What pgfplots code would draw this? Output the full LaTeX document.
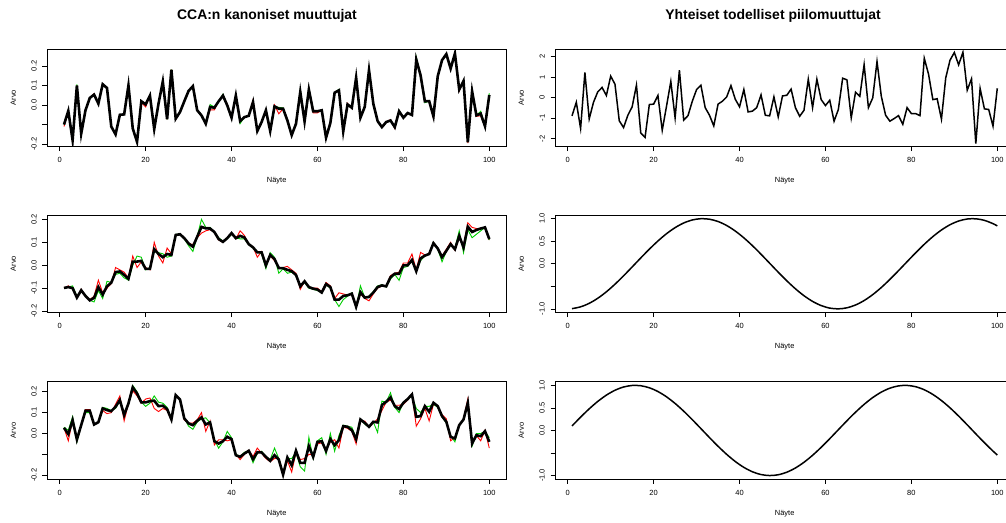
\documentclass[border=0pt]{standalone}
\usepackage{fontspec}
\setmainfont{Liberation Sans}
\usepackage{pgfplots}
\usepackage{pgfplotstable}
\pgfplotsset{compat=1.18}

\definecolor{rred}{RGB}{255,0,0}
\definecolor{rgreen}{RGB}{0,205,0}

% CCA canonical variables, panel 1 (x, red, green, black)
\pgfplotstableread{
x r g b
1 -0.11 -0.10 -0.10
2 -0.03 -0.03 -0.03
3 -0.19 -0.18 -0.18
4 0.10 0.105 0.10
5 -0.147 -0.147 -0.147
6 -0.027 -0.027 -0.027
7 0.036 0.036 0.036
8 0.058 0.053 0.053
9 0.007 0.007 0.007
10 0.106 0.106 0.106
11 0.087 0.087 0.087
12 -0.11 -0.11 -0.11
13 -0.15 -0.15 -0.15
14 -0.05 -0.05 -0.05
15 -0.048 -0.048 -0.048
16 0.10 0.10 0.10
17 -0.12 -0.12 -0.12
18 -0.192 -0.188 -0.188
19 0.012 0.019 0.019
20 -0.01 0.003 0.003
21 0.048 0.048 0.048
22 -0.123 -0.123 -0.123
23 0.007 0.007 0.007
24 0.12 0.12 0.12
25 -0.073 -0.073 -0.073
26 0.18 0.18 0.18
27 -0.075 -0.07 -0.07
28 -0.036 -0.036 -0.036
29 0.019 0.019 0.019
30 0.072 0.072 0.072
31 0.096 0.096 0.096
32 -0.027 -0.027 -0.027
33 -0.053 -0.053 -0.053
34 -0.096 -0.096 -0.096
35 -0.025 0.002 -0.01
36 -0.025 -0.01 -0.014
37 0.019 0.019 0.019
38 0.048 0.055 0.048
39 0.005 -0.002 -0.002
40 -0.065 -0.07 -0.065
41 0.048 0.048 0.048
42 -0.082 -0.095 -0.082
43 -0.062 -0.062 -0.062
44 -0.055 -0.055 -0.055
45 0.025 0.015 0.015
46 -0.133 -0.133 -0.133
47 -0.087 -0.087 -0.087
48 -0.027 -0.027 -0.027
49 -0.133 -0.133 -0.133
50 0.0 -0.007 -0.007
51 -0.045 -0.012 -0.019
52 -0.019 -0.015 -0.019
53 -0.079 -0.079 -0.079
54 -0.154 -0.154 -0.154
55 -0.096 -0.096 -0.096
56 0.067 0.078 0.067
57 -0.084 -0.084 -0.084
58 0.079 0.083 0.079
59 -0.04 -0.032 -0.032
60 -0.04 -0.032 -0.032
61 -0.027 -0.027 -0.027
62 -0.172 -0.167 -0.167
63 -0.092 -0.092 -0.092
64 0.063 0.063 0.063
65 0.075 0.08 0.075
66 -0.14 -0.135 -0.135
67 0.008 0.005 0.003
68 -0.018 -0.014 -0.014
69 0.14 0.14 0.14
70 -0.065 -0.065 -0.065
71 -0.01 -0.01 -0.01
72 0.178 0.185 0.178
73 0.007 0.007 0.007
74 -0.082 -0.082 -0.082
75 -0.113 -0.113 -0.113
76 -0.087 -0.087 -0.087
77 -0.075 -0.079 -0.079
78 -0.12 -0.113 -0.113
79 -0.032 -0.028 -0.032
80 -0.065 -0.065 -0.065
81 -0.041 -0.041 -0.041
82 -0.051 -0.051 -0.051
83 0.232 0.245 0.232
84 0.152 0.152 0.152
85 0.019 0.012 0.019
86 0.02 0.02 0.02
87 -0.068 -0.058 -0.058
88 0.147 0.147 0.147
89 0.229 0.229 0.229
90 0.26 0.26 0.26
91 0.186 0.186 0.186
92 0.265 0.263 0.263
93 0.072 0.079 0.079
94 0.123 0.123 0.123
95 -0.195 -0.19 -0.19
96 0.07 0.07 0.07
97 -0.058 -0.053 -0.053
98 -0.055 -0.032 -0.044
99 -0.109 -0.109 -0.109
100 0.051 0.06 0.051
}\cancA

% panel 2
\pgfplotstableread{
x r g b
1 -0.099 -0.10 -0.099
2 -0.09 -0.095 -0.095
3 -0.10 -0.09 -0.10
4 -0.141 -0.135 -0.141
5 -0.105 -0.115 -0.109
6 -0.134 -0.13 -0.134
7 -0.15 -0.153 -0.153
8 -0.135 -0.16 -0.142
9 -0.065 -0.11 -0.095
10 -0.12 -0.145 -0.128
11 -0.10 -0.07 -0.092
12 -0.08 -0.075 -0.076
13 -0.01 -0.04 -0.03
14 -0.02 -0.035 -0.027
15 -0.03 -0.055 -0.042
16 -0.055 -0.065 -0.059
17 0.04 0.0 0.016
18 -0.01 0.04 0.016
19 0.015 0.035 0.019
20 -0.01 -0.02 -0.016
21 -0.02 -0.01 -0.016
22 0.10 0.06 0.07
23 0.04 0.055 0.049
24 0.01 0.05 0.035
25 0.075 0.035 0.049
26 0.05 0.04 0.045
27 0.13 0.135 0.132
28 0.138 0.135 0.135
29 0.12 0.115 0.118
30 0.095 0.085 0.095
31 0.09 0.06 0.081
32 0.12 0.125 0.124
33 0.14 0.20 0.167
34 0.15 0.165 0.161
35 0.155 0.165 0.16
36 0.145 0.145 0.145
37 0.11 0.12 0.114
38 0.10 0.105 0.102
39 0.12 0.115 0.118
40 0.14 0.135 0.14
41 0.115 0.12 0.118
42 0.15 0.115 0.128
43 0.13 0.115 0.121
44 0.092 0.09 0.092
45 0.08 0.075 0.078
46 0.035 0.06 0.056
47 0.06 0.05 0.056
48 0.005 -0.015 0.0
49 0.04 0.055 0.045
50 0.02 0.035 0.027
51 -0.01 -0.035 -0.012
52 -0.01 -0.015 -0.013
53 -0.005 -0.035 -0.02
54 -0.02 -0.03 -0.026
55 -0.035 -0.045 -0.042
56 -0.105 -0.09 -0.092
57 -0.07 -0.075 -0.07
58 -0.095 -0.10 -0.095
59 -0.10 -0.105 -0.102
60 -0.10 -0.11 -0.106
61 -0.115 -0.12 -0.119
62 -0.075 -0.085 -0.082
63 -0.09 -0.10 -0.095
64 -0.145 -0.15 -0.15
65 -0.12 -0.18 -0.15
66 -0.125 -0.15 -0.134
67 -0.13 -0.135 -0.131
68 -0.125 -0.12 -0.124
69 -0.18 -0.185 -0.181
70 -0.125 -0.09 -0.117
71 -0.145 -0.14 -0.141
72 -0.155 -0.135 -0.138
73 -0.125 -0.115 -0.119
74 -0.10 -0.09 -0.095
75 -0.09 -0.085 -0.088
76 -0.09 -0.095 -0.092
77 -0.045 -0.06 -0.052
78 -0.035 -0.04 -0.037
79 -0.03 -0.066 -0.037
80 0.01 -0.01 -0.001
81 0.01 -0.005 0.0
82 0.049 0.02 0.023
83 -0.02 -0.025 -0.026
84 0.056 0.02 0.03
85 0.045 0.04 0.042
86 0.05 0.05 0.049
87 0.10 0.10 0.096
88 0.075 0.07 0.073
89 0.04 0.015 0.035
90 0.07 0.06 0.063
91 0.10 0.09 0.092
92 0.065 0.075 0.07
93 0.12 0.15 0.128
94 0.085 0.055 0.078
95 0.185 0.155 0.168
96 0.165 0.12 0.145
97 0.16 0.135 0.154
98 0.16 0.15 0.16
99 0.165 0.165 0.165
100 0.11 0.11 0.114
}\cancB

% panel 3
\pgfplotstableread{
x r g b
1 0.027 0.03 0.027
2 -0.035 0.015 -0.003
3 0.064 0.08 0.064
4 -0.029 -0.04 -0.029
5 0.04 0.04 0.04
6 0.115 0.10 0.109
7 0.115 0.10 0.109
8 0.043 0.043 0.043
9 0.054 0.054 0.054
10 0.11 0.125 0.12
11 0.095 0.12 0.112
12 0.10 0.11 0.107
13 0.14 0.12 0.128
14 0.18 0.155 0.16
15 0.06 0.09 0.088
16 0.144 0.144 0.144
17 0.205 0.23 0.221
18 0.18 0.20 0.192
19 0.145 0.15 0.149
20 0.165 0.13 0.149
21 0.17 0.145 0.155
22 0.12 0.18 0.157
23 0.105 0.15 0.131
24 0.12 0.145 0.133
25 0.11 0.125 0.117
26 0.065 0.07 0.067
27 0.18 0.185 0.184
28 0.163 0.163 0.163
29 0.065 0.075 0.072
30 0.05 0.035 0.048
31 0.05 0.02 0.04
32 0.065 0.055 0.061
33 0.10 0.07 0.077
34 0.01 0.075 0.043
35 0.06 0.05 0.053
36 -0.055 -0.03 -0.037
37 -0.03 -0.07 -0.048
38 -0.03 -0.04 -0.037
39 -0.035 0.01 -0.016
40 -0.03 -0.02 -0.027
41 -0.10 -0.10 -0.104
42 -0.125 -0.11 -0.112
43 -0.10 -0.09 -0.096
44 -0.08 -0.085 -0.083
45 -0.11 -0.14 -0.123
46 -0.07 -0.095 -0.09
47 -0.095 -0.085 -0.091
48 -0.12 -0.11 -0.112
49 -0.135 -0.125 -0.131
50 -0.12 -0.07 -0.104
51 -0.12 -0.12 -0.125
52 -0.19 -0.19 -0.197
53 -0.13 -0.12 -0.115
54 -0.185 -0.12 -0.152
55 -0.09 -0.09 -0.083
56 -0.125 -0.16 -0.141
57 -0.12 -0.18 -0.141
58 -0.10 -0.018 -0.061
59 -0.10 -0.12 -0.112
60 -0.05 -0.035 -0.04
61 -0.045 -0.02 -0.037
62 -0.08 -0.10 -0.083
63 -0.04 0.0 -0.027
64 -0.03 -0.085 -0.056
65 -0.07 -0.01 -0.032
66 0.03 0.04 0.035
67 0.025 0.035 0.032
68 0.01 0.03 0.016
69 -0.05 -0.02 -0.027
70 0.06 0.07 0.067
71 0.06 0.045 0.051
72 0.03 0.03 0.032
73 0.05 0.055 0.056
74 0.07 0.005 0.053
75 0.11 0.155 0.136
76 0.15 0.15 0.152
77 0.16 0.195 0.173
78 0.135 0.125 0.131
79 0.135 0.10 0.117
80 0.14 0.15 0.147
81 0.16 0.165 0.165
82 0.19 0.18 0.187
83 0.035 0.12 0.08
84 0.07 0.10 0.083
85 0.12 0.13 0.131
86 0.06 0.13 0.104
87 0.14 0.14 0.147
88 0.13 0.125 0.131
89 0.09 0.08 0.083
90 0.07 0.05 0.056
91 -0.035 -0.01 -0.016
92 -0.02 -0.04 -0.024
93 0.04 0.04 0.04
94 0.07 0.065 0.067
95 0.165 0.14 0.147
96 -0.04 -0.06 -0.048
97 -0.01 0.0 -0.008
98 -0.035 0.0 -0.013
99 0.015 0.01 0.011
100 -0.07 -0.02 -0.04
}\cancC

% shared latent variable (noise)
\pgfplotstableread{
x y
1 -0.89
2 -0.23
3 -1.5
4 1.22
5 -1.04
6 -0.23
7 0.28
8 0.49
9 0.1
10 1.04
11 0.65
12 -1.13
13 -1.46
14 -0.86
15 -0.45
16 0.6
17 -1.72
18 -1.94
19 -0.34
20 -0.32
21 0.1
22 -1.59
23 -0.42
24 0.78
25 -0.99
26 1.33
27 -1.1
28 -0.88
29 -0.18
30 0.39
31 0.6
32 -0.49
33 -0.86
34 -1.38
35 -0.32
36 -0.18
37 0.03
38 0.58
39 -0.08
40 -0.45
41 0.39
42 -0.7
43 -0.66
44 -0.49
45 0.13
46 -0.86
47 -0.89
48 0.03
49 -0.94
50 0.08
51 0.11
52 0.41
53 -0.49
54 -0.91
55 -0.62
56 0.89
57 -0.49
58 0.89
59 -0.1
60 -0.39
61 -0.13
62 -1.15
63 -0.58
64 0.94
65 0.86
66 -0.99
67 0.26
68 0.06
69 1.6
70 -0.49
71 -0.02
72 1.75
73 0.06
74 -0.86
75 -1.15
76 -1.02
77 -0.88
78 -1.3
79 -0.49
80 -0.78
81 -0.78
82 -0.88
83 1.91
84 1.13
85 -0.1
86 -0.06
87 -1.05
88 0.96
89 1.82
90 2.19
91 1.59
92 2.2
93 0.36
94 0.91
95 -2.24
96 0.44
97 -0.55
98 -0.58
99 -1.39
100 0.45
}\latentA

% shared latent variable (slow wave)
\pgfplotstableread{
x y
1 -0.9950
3 -0.9553
5 -0.8776
7 -0.7648
9 -0.6216
11 -0.4536
13 -0.2675
15 -0.0707
17 0.1288
19 0.3233
21 0.5048
23 0.6663
25 0.8011
27 0.9041
29 0.9710
31 0.9991
33 0.9875
35 0.9365
37 0.8481
39 0.7259
41 0.5748
43 0.4008
45 0.2108
47 0.0124
49 -0.1865
51 -0.3780
53 -0.5544
55 -0.7087
57 -0.8347
59 -0.9275
61 -0.9833
63 -0.9999
65 -0.9766
67 -0.9144
69 -0.8157
71 -0.6845
73 -0.5261
75 -0.3466
77 -0.1532
79 0.0460
81 0.2435
83 0.4314
85 0.6020
87 0.7486
89 0.8654
91 0.9477
93 0.9922
95 0.9972
97 0.9624
99 0.8892
100 0.8391
}\latentB

\pgfplotstableread{
x y
1 0.0998
3 0.2955
5 0.4794
7 0.6442
9 0.7833
11 0.8912
13 0.9636
15 0.9975
17 0.9917
19 0.9463
21 0.8632
23 0.7457
25 0.5985
27 0.4274
29 0.2392
31 0.0416
33 -0.1577
35 -0.3508
37 -0.5298
39 -0.6878
41 -0.8183
43 -0.9162
45 -0.9775
47 -0.9999
49 -0.9825
51 -0.9258
53 -0.8323
55 -0.7055
57 -0.5507
59 -0.3739
61 -0.1822
63 0.0168
65 0.2151
67 0.4048
69 0.5784
71 0.7290
73 0.8504
75 0.9380
77 0.9882
79 0.9989
81 0.9699
83 0.9022
85 0.7985
87 0.6630
89 0.5010
91 0.3190
93 0.1245
95 -0.0752
97 -0.2718
99 -0.4575
100 -0.5440
}\latentC

\pgfplotsset{
  rpanel/.style={
    scale only axis, width=459.3bp, height=97.5bp,
    anchor=north west,
    xmin=-2.96, xmax=103.96,
    xtick={0,20,40,60,80,100},
    xticklabels={0,20,40,60,80,100},
    tick align=outside, tick pos=left,
    major tick length=4.5bp,
    axis line style={line width=0.9bp},
    tick style={line width=0.6bp, black},
    ticklabel style={font=\fontsize{7.5}{8}\selectfont},
    xticklabel shift=3.2bp,
    yticklabel shift=2.2bp,
    yticklabel style={rotate=90, anchor=south},
    xlabel={Näyte}, ylabel={Arvo},
    label style={font=\fontsize{7.5}{8}\selectfont},
    xlabel style={at={(axis description cs:0.5,-0.35)}, anchor=center},
    ylabel style={at={(axis description cs:-0.0735,0.5)}, anchor=center},
  },
}

\begin{document}
\begin{tikzpicture}
\useasboundingbox (0,0) rectangle (1006bp,-523bp);

\node[font=\bfseries\fontsize{14}{16}\selectfont] at (267bp,-16bp) {CCA:n kanoniset muuttujat};
\node[font=\bfseries\fontsize{14}{16}\selectfont] at (773bp,-16bp) {Yhteiset todelliset piilomuuttujat};

% left column
\begin{axis}[rpanel, at={(47bp,-49bp)},
  ymin=-0.212, ymax=0.286,
  ytick={-0.2,-0.1,0,0.1,0.2}, yticklabels={-0.2,{},0.0,0.1,0.2}]
\addplot[rred, line width=0.9bp] table[x=x, y=r] {\cancA};
\addplot[rgreen, line width=0.9bp] table[x=x, y=g] {\cancA};
\addplot[black, line width=2.6bp] table[x=x, y=b] {\cancA};
\end{axis}

\begin{axis}[rpanel, at={(47bp,-215bp)},
  ymin=-0.206, ymax=0.219,
  ytick={-0.2,-0.1,0,0.1,0.2}, yticklabels={-0.2,-0.1,0.0,0.1,0.2}]
\addplot[rred, line width=0.9bp] table[x=x, y=r] {\cancB};
\addplot[rgreen, line width=0.9bp] table[x=x, y=g] {\cancB};
\addplot[black, line width=2.6bp] table[x=x, y=b] {\cancB};
\end{axis}

\begin{axis}[rpanel, at={(47bp,-381.7bp)},
  ymin=-0.219, ymax=0.248,
  ytick={-0.2,-0.1,0,0.1,0.2}, yticklabels={-0.2,{},0.0,0.1,0.2}]
\addplot[rred, line width=0.9bp] table[x=x, y=r] {\cancC};
\addplot[rgreen, line width=0.9bp] table[x=x, y=g] {\cancC};
\addplot[black, line width=2.6bp] table[x=x, y=b] {\cancC};
\end{axis}

% right column
\begin{axis}[rpanel, at={(555bp,-49bp)},
  ymin=-2.38, ymax=2.36,
  ytick={-2,-1,0,1,2}, yticklabels={-2,-1,0,1,2}]
\addplot[black, line width=1.5bp] table[x=x, y=y] {\latentA};
\end{axis}

\begin{axis}[rpanel, at={(555bp,-215bp)},
  ymin=-1.081, ymax=1.081,
  ytick={-1,-0.5,0,0.5,1}, yticklabels={-1.0,{},0.0,0.5,1.0}]
\addplot[black, line width=1.5bp, smooth] table[x=x, y=y] {\latentB};
\end{axis}

\begin{axis}[rpanel, at={(555bp,-381.7bp)},
  ymin=-1.081, ymax=1.081,
  ytick={-1,-0.5,0,0.5,1}, yticklabels={-1.0,{},0.0,0.5,1.0}]
\addplot[black, line width=1.5bp, smooth] table[x=x, y=y] {\latentC};
\end{axis}
\end{tikzpicture}
\end{document}
